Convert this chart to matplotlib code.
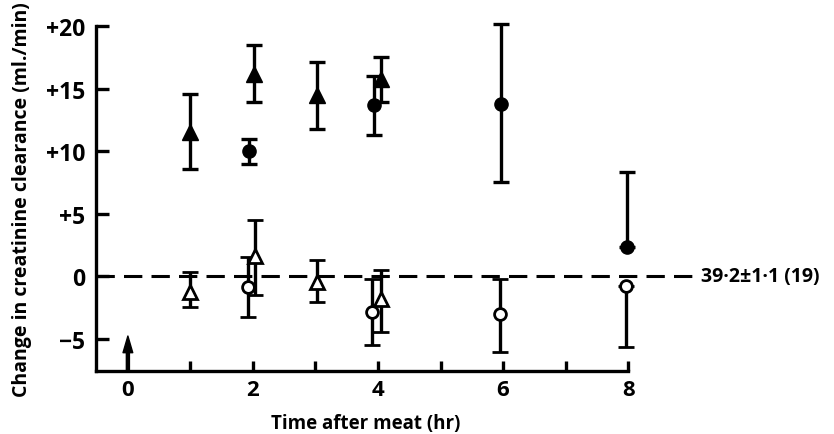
import matplotlib
matplotlib.use("Agg")
import matplotlib.pyplot as plt
import numpy as np

plt.rcParams['font.family'] = ['Open Sans', 'DejaVu Sans']
plt.rcParams['font.weight'] = 'bold'

# Filled triangles
ft_x = [1.0, 2.02, 3.02, 4.05]
ft_y = [11.5, 16.2, 14.5, 15.8]
ft_lo = [2.95, 2.3, 2.7, 1.9]
ft_hi = [3.1, 2.3, 2.6, 1.7]

# Filled circles
fc_x = [1.93, 3.93, 5.97, 7.98]
fc_y = [10.0, 13.7, 13.8, 2.3]
fc_lo = [1.0, 2.4, 6.3, 0.0]
fc_hi = [1.0, 2.3, 6.4, 6.0]

# Open triangles
ot_x = [1.0, 2.03, 3.02, 4.05]
ot_y = [-1.3, 1.6, -0.5, -1.8]
ot_lo = [1.2, 3.1, 1.6, 2.7]
ot_hi = [1.6, 2.9, 1.8, 2.3]

# Open circles
oc_x = [1.92, 3.9, 5.95, 7.97]
oc_y = [-0.9, -2.9, -3.0, -0.8]
oc_lo = [2.4, 2.6, 3.1, 4.9]
oc_hi = [2.4, 2.7, 2.8, 0.0]

xticks = [0, 2, 4, 6, 8]
yticks = [-5, 0, 5, 10, 15, 20]
ytick_labels = ['\u22125', '0', '+5', '+10', '+15', '+20']
baseline_label = '39\u00b72\u00b11\u00b71 (19)'

fig = plt.figure(figsize=(8.34, 4.35), dpi=100)
ax = fig.add_axes([96/834, 1 - 372/435, (700-96)/834, (372-21)/435])
ax.set_xlim(-0.51, 9.15)
ax.set_ylim(-7.6, 20.5)

lw = 2.4
common = dict(color='black', ecolor='black', elinewidth=lw, capsize=5.5,
              capthick=lw, linestyle='none', zorder=3)
ax.errorbar(ft_x, ft_y, yerr=[ft_lo, ft_hi], marker='^', markersize=11,
            markerfacecolor='black', markeredgecolor='black', **common)
ax.errorbar(fc_x, fc_y, yerr=[fc_lo, fc_hi], marker='o', markersize=9.5,
            markerfacecolor='black', markeredgecolor='black', **common)
ax.errorbar(ot_x, ot_y, yerr=[ot_lo, ot_hi], marker='^', markersize=10,
            markerfacecolor='white', markeredgecolor='black', markeredgewidth=2, **common)
ax.errorbar(oc_x, oc_y, yerr=[oc_lo, oc_hi], marker='o', markersize=8.5,
            markerfacecolor='white', markeredgecolor='black', markeredgewidth=2, **common)

ax.axhline(0, color='black', linewidth=2.2, dashes=(6, 3), zorder=1)
ax.text(9.17, 0, baseline_label, ha='left', va='center', fontsize=14,
        fontweight='bold', clip_on=False)

ax.annotate('', xy=(0, -4.8), xytext=(0, -7.6),
            arrowprops=dict(facecolor='black', edgecolor='black', width=2.2,
                            headwidth=7, headlength=12, shrink=0.0), zorder=4)

for s in ['top', 'right']:
    ax.spines[s].set_visible(False)
ax.spines['left'].set_bounds(-7.6, 20)
ax.spines['bottom'].set_bounds(-0.51, 8)
for s in ['left', 'bottom']:
    ax.spines[s].set_linewidth(2.4)

ax.set_xticks(xticks)
ax.set_xticks([1, 3, 5, 7], minor=True)
ax.set_yticks(yticks)
ax.set_yticklabels(ytick_labels)
ax.tick_params(axis='x', which='both', direction='in', length=7, width=2.4, pad=6,
               labelsize=16)
ax.tick_params(axis='y', direction='in', length=9, width=2.4, pad=8, labelsize=16.5)
ax.xaxis.get_major_ticks()[0].tick1line.set_visible(False)
for lab in ax.get_xticklabels() + ax.get_yticklabels():
    lab.set_fontweight('bold')

ax.set_xlabel('Time after meat (hr)', fontsize=13.5, fontweight='bold')
ax.xaxis.set_label_coords((366 - 96) / 604, -42 / 351)
fig.text(22/834, 1 - 200/435, 'Change in creatinine clearance (ml./min)', rotation=90,
         ha='center', va='center', fontsize=14, fontweight='bold')

fig.savefig('out.png', dpi=100)
